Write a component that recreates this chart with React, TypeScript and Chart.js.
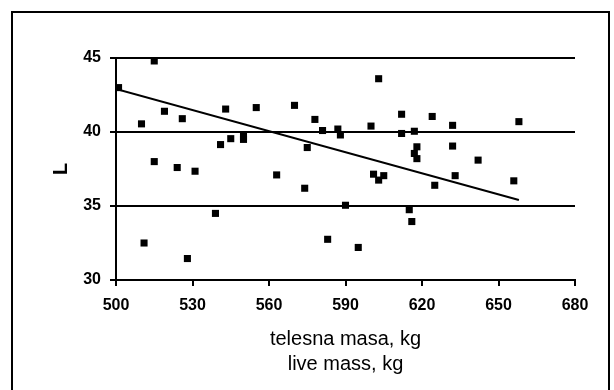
import React, { useEffect, useRef } from "react";
import { Chart, registerables } from "chart.js";

Chart.register(...registerables);

const massKg = [
  501, 515, 510, 511, 515, 519, 524, 526, 528, 531,
  539, 541, 543, 545, 550, 550, 555, 563, 570, 574,
  575, 578, 581, 583, 587, 588, 590, 595, 600, 601,
  603, 603, 605, 612, 612, 615, 616, 617, 617, 618,
  618, 624, 625, 632, 632, 633, 642, 656, 658,
];
const lValues = [
  43.0, 44.8, 40.55, 32.5, 38.0, 41.4, 37.6, 40.9, 31.45, 37.35,
  34.5, 39.15, 41.55, 39.55, 39.7, 39.5, 41.65, 37.1, 41.8, 36.2,
  38.95, 40.85, 40.1, 32.75, 40.2, 39.8, 35.05, 32.2, 40.4, 37.15,
  43.6, 36.75, 37.05, 41.2, 39.9, 34.75, 33.95, 40.05, 38.55, 39.0,
  38.2, 41.05, 36.4, 40.45, 39.05, 37.05, 38.1, 36.7, 40.7,
];
const trendX = [500, 658];
const trendY = [42.9, 35.4];
const xTicks = [500, 530, 560, 590, 620, 650, 680];
const yTicks = [30, 35, 40, 45];
const xTitle = ["telesna masa, kg", "live mass, kg"];
const yTitle = "L";

export default function App() {
  const ref = useRef<HTMLCanvasElement | null>(null);

  useEffect(() => {
    if (!ref.current) return;
    const font = "'Liberation Sans', Arial, Helvetica, sans-serif";
    const chart = new Chart(ref.current, {
      type: "scatter",
      data: {
        datasets: [
          {
            type: "scatter",
            data: massKg.map((x, i) => ({ x, y: lValues[i] })),
            pointStyle: "rect",
            pointRadius: 5,
            pointBorderWidth: 0,
            backgroundColor: "#000",
            borderColor: "#000",
          },
          {
            type: "line",
            data: trendX.map((x, i) => ({ x, y: trendY[i] })),
            borderColor: "#000",
            borderWidth: 2,
            pointRadius: 0,
            fill: false,
          } as any,
        ],
      },
      options: {
        animation: false,
        responsive: false,
        layout: { padding: { left: 0, right: 39, top: 58, bottom: 0 } },
        plugins: { legend: { display: false }, tooltip: { enabled: false } },
        scales: {
          x: {
            type: "linear",
            min: 500,
            max: 680,
            afterBuildTicks: (s: any) => {
              s.ticks = xTicks.map((v) => ({ value: v }));
            },
            afterFit: (s: any) => {
              s.height = 110;
            },
            border: { display: true, color: "#000", width: 2 },
            grid: {
              drawOnChartArea: false,
              drawTicks: true,
              tickLength: 6,
              color: "#000",
              lineWidth: 2,
            },
            ticks: {
              color: "#000",
              padding: 10,
              maxRotation: 0,
              font: { family: font, size: 16, weight: "bold" },
            },
            title: {
              display: true,
              text: xTitle,
              color: "#000",
              font: { family: font, size: 20, lineHeight: 1.25 },
              padding: { top: 0, bottom: 13 },
            },
          },
          y: {
            type: "linear",
            min: 30,
            max: 45,
            afterBuildTicks: (s: any) => {
              s.ticks = yTicks.map((v) => ({ value: v }));
            },
            afterFit: (s: any) => {
              s.width = 116;
            },
            border: { display: true, color: "#000", width: 2 },
            grid: {
              drawOnChartArea: true,
              drawTicks: true,
              tickLength: 6,
              color: "#000",
              lineWidth: 2,
            },
            ticks: {
              color: "#000",
              padding: 9,
              font: { family: font, size: 16, weight: "bold" },
            },
            title: {
              display: true,
              text: yTitle,
              color: "#000",
              font: { family: font, size: 20, weight: "bold", lineHeight: 1.2 },
              padding: { top: 49, bottom: 0 },
            },
          },
        },
      },
    });
    return () => chart.destroy();
  }, []);

  return (
    <div
      style={{
        position: "fixed",
        left: 0,
        top: 0,
        width: 614,
        height: 390,
        overflow: "hidden",
        background: "#fff",
      }}
    >
      <div
        style={{
          position: "absolute",
          left: 11,
          top: 11,
          width: 599,
          height: 430,
          border: "2px solid #000",
          boxSizing: "border-box",
        }}
      />
      <canvas
        ref={ref}
        width={614}
        height={390}
        style={{ position: "absolute", left: 0, top: 0, width: 614, height: 390 }}
      />
    </div>
  );
}
